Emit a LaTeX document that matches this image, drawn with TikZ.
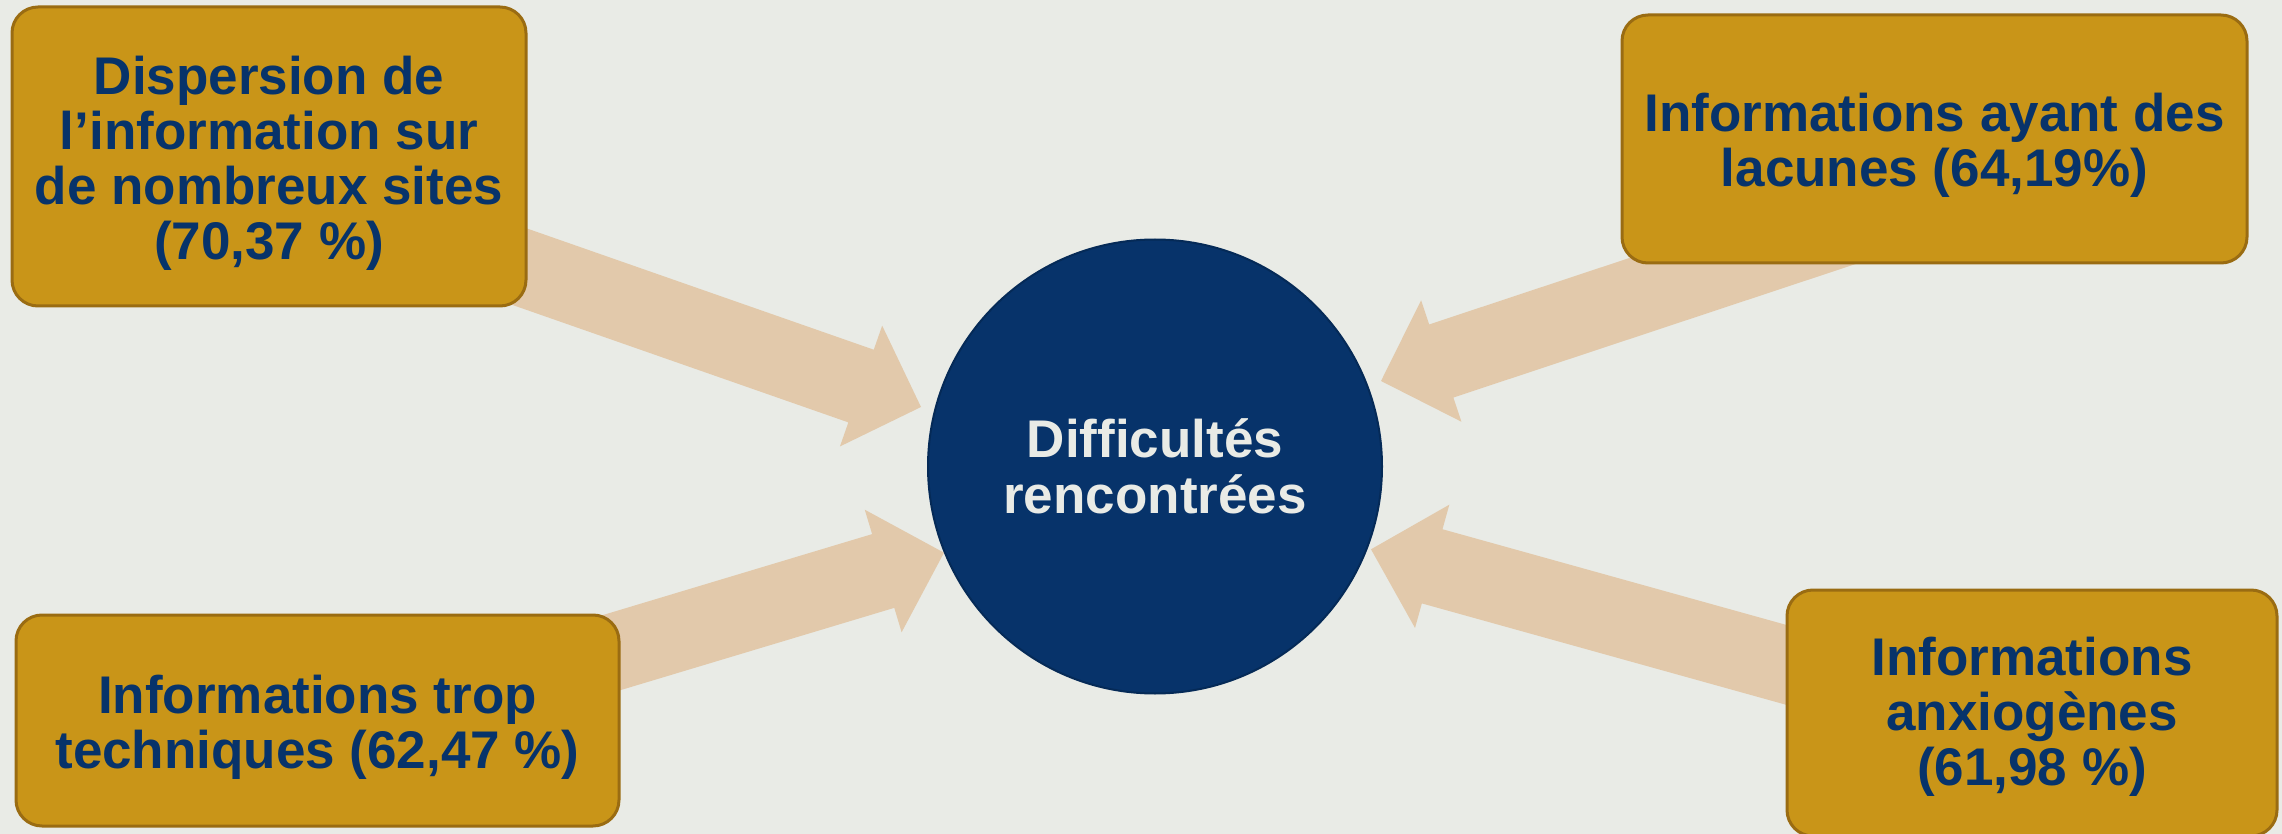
\documentclass[tikz,border=0pt]{standalone}
\usepackage{fontspec}
\setmainfont{Liberation Sans}
\usetikzlibrary{calc}
\definecolor{bgc}{HTML}{E9EBE6}
\definecolor{boxfill}{HTML}{C99518}
\definecolor{boxline}{HTML}{9A6C12}
\definecolor{navy}{HTML}{07336A}
\definecolor{navyline}{HTML}{052A57}
\definecolor{arrowc}{HTML}{E2C9AB}
\newcommand\myblockarrow[2]{%
  \path (#2) coordinate (tmpT) ($(#2)!31.75pt!(#1)$) coordinate (tmpH);
  \fill[arrowc] ($(#1)!19.25pt!90:(tmpT)$) -- ($(tmpH)!19.25pt!90:(tmpT)$)
    -- ($(tmpH)!32pt!90:(tmpT)$) -- (tmpT) -- ($(tmpH)!32pt!-90:(tmpT)$)
    -- ($(tmpH)!19.25pt!-90:(tmpT)$) -- ($(#1)!19.25pt!-90:(tmpT)$) -- cycle;
}
\newcommand\mystrut[1]{\rule{0pt}{#1}}
\begin{document}
\begin{tikzpicture}[x=0.5pt,y=-0.5pt,
  boxstyle/.style={draw=boxline, line width=1.5pt, fill=boxfill, rounded corners=13pt,
    inner sep=0pt, align=center, text=navy,
    font=\bfseries\fontsize{26.5pt}{27.5pt}\selectfont},
  hubstyle/.style={circle, draw=navyline, line width=1pt, fill=navy, inner sep=0pt,
    minimum size=227pt, align=center, text=bgc,
    font=\bfseries\fontsize{26.5pt}{28pt}\selectfont}]
\clip (0,0) rectangle (2282,834);
\fill[bgc] (0,0) rectangle (2282,834);
% arrow end points
\coordinate (s1) at (449,242);    \coordinate (t1) at (921,407);
\coordinate (s2) at (1950.4,192); \coordinate (t2) at (1381,381);
\coordinate (s3) at (465,696.7);  \coordinate (t3) at (944,552.7);
\coordinate (s4) at (1852.5,683.3); \coordinate (t4) at (1371,549.3);
\myblockarrow{s1}{t1}
\myblockarrow{s2}{t2}
\myblockarrow{s3}{t3}
\myblockarrow{s4}{t4}
% boxes
\node[boxstyle, minimum width=257pt, minimum height=149.5pt] (b1) at (269,156.5)
  {\mystrut{26pt}Dispersion de\\l’information sur\\de nombreux sites\\(70,37 \%)};
\node[boxstyle, minimum width=312.5pt, minimum height=124pt] (b2) at (1934.5,139)
  {\mystrut{26pt}Informations ayant des\\lacunes (64,19\%)};
\node[boxstyle, minimum width=301.5pt, minimum height=105.5pt] (b3) at (317.5,720.5)
  {\mystrut{26pt}Informations trop\\techniques (62,47 \%)};
\node[boxstyle, minimum width=245pt, minimum height=123pt] (b4) at (2032,713)
  {\mystrut{23pt}Informations\\anxiogènes\\(61,98 \%)};
% hub
\node[hubstyle] (hub) at (1155,466.5) {Difficultés\\rencontrées};
\end{tikzpicture}
\end{document}
